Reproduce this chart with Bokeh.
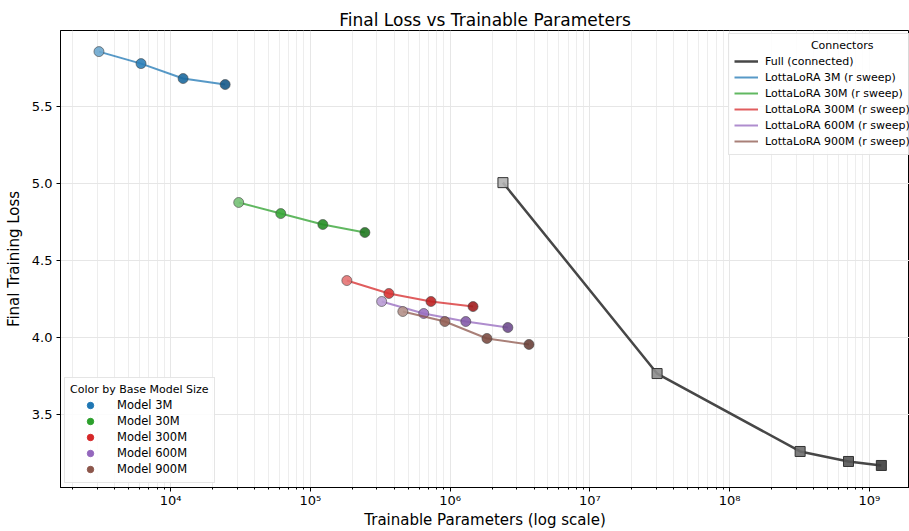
from bokeh.plotting import figure
from bokeh.models import (ColumnDataSource, Legend, LegendItem, FixedTicker,
                          CustomJSTickFormatter, NumeralTickFormatter, Range1d)
from bokeh.embed import file_html
from bokeh.resources import INLINE

# LoRA rank sweeps: trainable parameters and final loss per base model
lora_3m_params = [3072, 6144, 12288, 24576]
lora_3m_loss = [5.857, 5.779, 5.682, 5.643]

lora_30m_params = [30720, 61440, 122880, 245760]
lora_30m_loss = [4.877, 4.805, 4.734, 4.682]

lora_300m_params = [182500, 365000, 730000, 1460000]
lora_300m_loss = [4.370, 4.286, 4.234, 4.201]

lora_600m_params = [324000, 648000, 1296000, 2592000]
lora_600m_loss = [4.234, 4.156, 4.104, 4.065]

lora_900m_params = [459000, 918000, 1836000, 3672000]
lora_900m_loss = [4.169, 4.104, 3.994, 3.955]

# Full fine-tuning runs
full_params = [2.39e6, 3.03e7, 3.2e8, 7.1e8, 1.22e9]
full_loss = [5.006, 3.766, 3.260, 3.195, 3.169]

model_names = ["3M", "30M", "300M", "600M", "900M"]
x_tick_values = [1e4, 1e5, 1e6, 1e7, 1e8, 1e9]
y_tick_values = [3.5, 4.0, 4.5, 5.0, 5.5]

base_colors = ["#1f77b4", "#2ca02c", "#d62728", "#9467bd", "#8c564b"]
FONT = "DejaVu Sans"

FRAME_H = 457


def hex_to_rgb(h):
    h = h.lstrip("#")
    return tuple(int(h[i:i + 2], 16) for i in (0, 2, 4))


def mix(c, target, t):
    r = tuple(round(a + (b - a) * t) for a, b in zip(c, target))
    return "#%02x%02x%02x" % r


def shades(hex_color, n, light=0.35, dark=0.25):
    """Light-to-dark ramp of a base colour for successive ranks."""
    c = hex_to_rgb(hex_color)
    out = []
    for i in range(n):
        t = i / (n - 1)
        if t < 0.4:
            out.append(mix(c, (255, 255, 255), light * (1 - t / 0.4)))
        else:
            out.append(mix(c, (0, 0, 0), dark * (t - 0.4) / 0.6))
    return out


p = figure(width=909, height=531, x_axis_type="log",
           x_range=Range1d(1630, 1.94e9), y_range=Range1d(3.026, 5.994),
           output_backend="svg", toolbar_location=None,
           min_border_left=60, min_border_right=0,
           min_border_top=30, min_border_bottom=44,
           title="Final Loss vs Trainable Parameters")

p.title.align = "center"
p.title.text_font = FONT
p.title.text_font_size = "17px"
p.title.text_font_style = "normal"
p.title.text_color = "black"
p.title.offset = 0
p.title.standoff = 2

p.outline_line_color = "black"
p.outline_line_width = 1
p.outline_line_alpha = 1

# axes
minor = [m * 10 ** d for d in range(3, 10) for m in range(2, 10)]
p.xaxis.ticker = FixedTicker(ticks=x_tick_values, minor_ticks=minor)
p.xaxis.formatter = CustomJSTickFormatter(code="""
    const sup = {"0":"\u2070","1":"\u00b9","2":"\u00b2","3":"\u00b3","4":"\u2074",
                 "5":"\u2075","6":"\u2076","7":"\u2077","8":"\u2078","9":"\u2079"};
    const e = String(Math.round(Math.log10(tick)));
    return "10" + e.split("").map(c => sup[c]).join("");
""")
p.yaxis.ticker = FixedTicker(ticks=y_tick_values)
p.yaxis.formatter = NumeralTickFormatter(format="0.0")

for ax in (p.xaxis, p.yaxis):
    ax.axis_line_color = "black"
    ax.major_tick_line_color = "black"
    ax.minor_tick_line_color = "black"
    ax.major_tick_in = 0
    ax.major_tick_out = 4
    ax.minor_tick_in = 0
    ax.minor_tick_out = 2
    ax.major_label_text_font = FONT
    ax.major_label_text_font_size = "13px"
    ax.major_label_text_color = "black"
    ax.axis_label_text_font = FONT
    ax.axis_label_text_font_size = "15px"
    ax.axis_label_text_font_style = "normal"
    ax.axis_label_text_color = "black"
p.yaxis.minor_tick_line_color = None
p.xaxis.axis_label = "Trainable Parameters (log scale)"
p.yaxis.axis_label = "Final Training Loss"
p.xaxis.axis_label_standoff = 0
p.yaxis.axis_label_standoff = 6
p.xaxis.major_label_standoff = 1
p.yaxis.major_label_standoff = 4

p.xgrid.grid_line_color = "#e6e6e6"
p.xgrid.minor_grid_line_color = "#ededed"
p.ygrid.grid_line_color = "#e6e6e6"

series = [
    (lora_3m_params, lora_3m_loss),
    (lora_30m_params, lora_30m_loss),
    (lora_300m_params, lora_300m_loss),
    (lora_600m_params, lora_600m_loss),
    (lora_900m_params, lora_900m_loss),
]

connector_items = []

# full fine-tuning connector
full_line = p.line(full_params, full_loss, line_color="#333333", line_width=2.5,
                   line_alpha=0.9)
full_shades = ["#b3b3b3", "#8c8c8c", "#6e6e6e", "#555555", "#3d3d3d"]
p.scatter(full_params, full_loss, marker="square", size=10,
          fill_color=full_shades, fill_alpha=0.9,
          line_color="#333333", line_width=1)
connector_items.append(LegendItem(label="Full (connected)", renderers=[full_line]))

color_items = []
for name, color, (xs, ys) in zip(model_names, base_colors, series):
    ln = p.line(xs, ys, line_color=color, line_width=2, line_alpha=0.75)
    pts = ColumnDataSource(dict(x=xs, y=ys, c=shades(color, len(xs))))
    p.scatter("x", "y", source=pts, size=10, fill_color="c", fill_alpha=0.9,
              line_color="#444444", line_alpha=0.6, line_width=1)
    connector_items.append(LegendItem(label=f"LottaLoRA {name} (r sweep)",
                                      renderers=[ln]))
    # legend-only swatch, placed outside the visible range
    swatch = p.scatter(x=[1.0], y=[0.0], size=10, fill_color=color,
                       line_color=color)
    color_items.append(LegendItem(label=f"Model {name}", renderers=[swatch]))


def style_legend(lg, size):
    lg.label_text_font = FONT
    lg.label_text_font_size = size
    lg.label_text_color = "black"
    lg.title_text_font = FONT
    lg.title_text_font_size = "11px"
    lg.title_text_font_style = "normal"
    lg.title_text_color = "black"
    lg.border_line_color = "#cccccc"
    lg.border_line_width = 1
    lg.background_fill_alpha = 0.85
    lg.padding = 5
    lg.spacing = 0
    lg.label_height = 16
    lg.glyph_height = 16
    lg.label_standoff = 7
    lg.title_standoff = 1


# location tuple: left edge and bottom edge of the box, in frame pixels
conn_legend = Legend(items=connector_items, title="                      Connectors",
                     location=(668, FRAME_H - 125), glyph_width=24)
style_legend(conn_legend, "11px")
color_legend = Legend(items=color_items, title="Color by Base Model Size",
                      location="bottom_left", margin=4, glyph_width=40)
style_legend(color_legend, "11.5px")
p.add_layout(conn_legend)
p.add_layout(color_legend)

open("out.html", "w").write(file_html(p, INLINE))
